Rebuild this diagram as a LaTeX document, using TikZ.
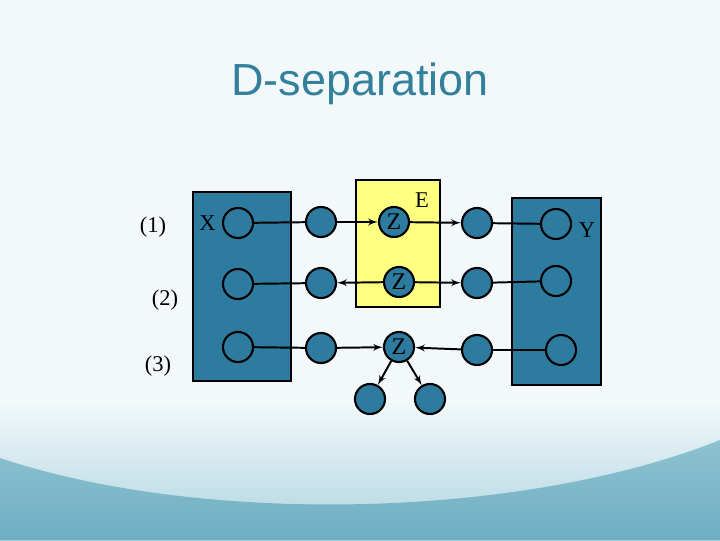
\documentclass[tikz,border=0pt]{standalone}
\usepackage{fontspec}
\setmainfont{Liberation Serif}
\newfontfamily\titlefont{Liberation Sans}
\usetikzlibrary{arrows,shapes,positioning}
\definecolor{boxblue}{HTML}{2E7BA0}
\definecolor{titleblue}{HTML}{33809B}
\definecolor{evyellow}{HTML}{FFFF80}
\definecolor{bgpale}{HTML}{F3F9FB}
\definecolor{bgwave}{HTML}{ADD4DF}
\definecolor{bgband}{HTML}{8DC2D1}
\definecolor{bgdeep}{HTML}{6FAEC2}
\pgfdeclarelayer{background}
\pgfsetlayers{background,main}

\begin{document}
\begin{tikzpicture}[x=0.025cm, y=-0.025cm, >=latex',
  font=\fontsize{16}{18}\selectfont]
\tikzset{var/.style = {draw, line width=1.5pt, circle, fill=boxblue,
  minimum size=0.75cm, inner sep=0pt, font=\fontsize{17}{17}\selectfont},
  region/.style = {draw, line width=1.6pt, rectangle, anchor=north west,
  inner sep=0pt},
  link/.style = {line width=1.4pt}}

  \useasboundingbox (0,0) rectangle (720,540);
  \begin{pgfonlayer}{background}
    \fill[bgpale] (0,0) rectangle (720,540);
    \shade[top color=bgpale, bottom color=bgwave, draw=none]
      (0,400) rectangle (720,540);
    \shade[top color=bgband, bottom color=bgdeep, draw=none]
      (0,458) .. controls (200,525) and (520,520) .. (720,440)
      -- (720,540) -- (0,540) -- cycle;
  \end{pgfonlayer}

  \node[text=titleblue, font=\titlefont\fontsize{32}{36}\selectfont]
    (title) at (360,84) {D-separation};

  % sets of variables
  \node[region, fill=boxblue, minimum width=2.45cm, minimum height=4.725cm]
    (xset) at (192,191) {};
  \node[region, fill=evyellow, minimum width=2.1cm, minimum height=3.175cm]
    (evid) at (355,179) {};
  \node[region, fill=boxblue, minimum width=2.225cm, minimum height=4.675cm]
    (yset) at (511,197) {};

  % path (1)
  \node[var] (x1) at (238,223) {};
  \node[var] (a1) at (321,222) {};
  \node[var] (z1) at (394,222) {Z};
  \node[var] (b1) at (477,223) {};
  \node[var] (y1) at (556,224) {};

  % path (2)
  \node[var] (x2) at (238,284) {};
  \node[var] (a2) at (321,283) {};
  \node[var] (z2) at (399,282) {Z};
  \node[var] (b2) at (477,283) {};
  \node[var] (y2) at (556,281) {};

  % path (3)
  \node[var] (x3) at (238,347) {};
  \node[var] (a3) at (321,348) {};
  \node[var] (z3) at (399,347) {Z};
  \node[var] (b3) at (477,350) {};
  \node[var] (y3) at (561,350) {};
  \node[var] (c1) at (370,399) {};
  \node[var] (c2) at (430,399) {};

  \node (lab1) at (153,227) {(1)};
  \node (lab2) at (165,300) {(2)};
  \node (lab3) at (158,366) {(3)};
  \node[left=1pt of x1] (xlab) {X};
  \node (ylab) at (587,230) {Y};
  \node (elab) at (422,200) {E};

  \draw[link] (x1) -- (a1);
  \draw[link, ->] (a1) -- (z1);
  \draw[link, ->] (z1) -- (b1);
  \draw[link] (b1) -- (y1);

  \draw[link] (x2) -- (a2);
  \draw[link, ->] (z2) -- (a2);
  \draw[link, ->] (z2) -- (b2);
  \draw[link] (b2) -- (y2);

  \draw[link] (x3) -- (a3);
  \draw[link, ->] (a3) -- (z3);
  \draw[link, ->] (b3) -- (z3);
  \draw[link] (b3) -- (y3);
  \draw[link, ->] (z3) -- (c1);
  \draw[link, ->] (z3) -- (c2);

\end{tikzpicture}
\end{document}
